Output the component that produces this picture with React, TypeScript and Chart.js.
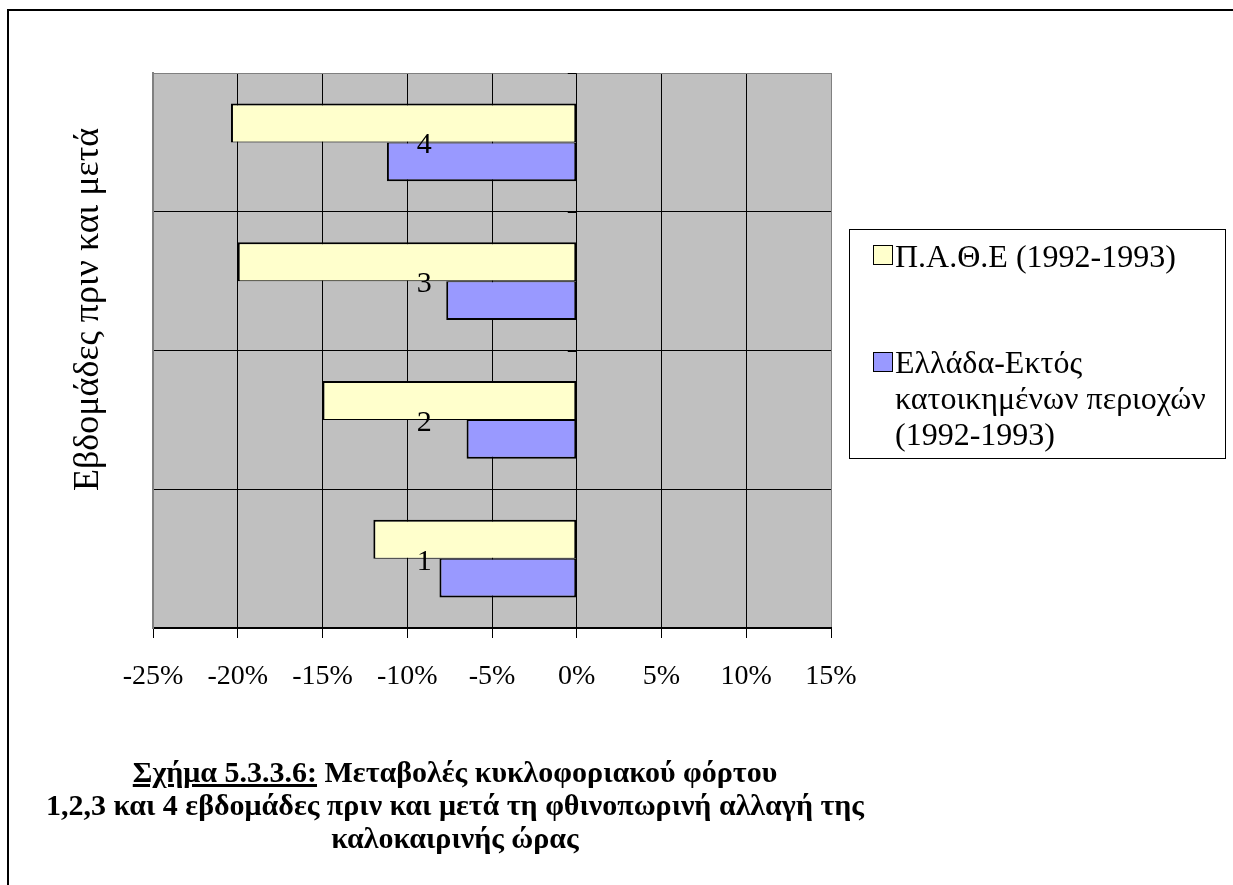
import React, { useEffect, useRef } from 'react';
import { Chart, registerables } from 'chart.js';

Chart.register(...registerables);

// ---- data ----
const weeks = ['1', '2', '3', '4'];
const patheValues = [-12.0, -15.0, -20.0, -20.4];
const greeceValues = [-8.1, -6.5, -7.7, -11.2];
const seriesNames = ['Π.Α.Θ.Ε (1992-1993)', 'Ελλάδα-Εκτός κατοικημένων περιοχών (1992-1993)'];
const seriesColors = ['#ffffcc', '#9999ff'];
const xMin = -25;
const xMax = 15;
const xStep = 5;
const yTitle = 'Εβδομάδες πριν και μετά';
const captionLead = 'Σχήμα 5.3.3.6:';
const captionRest = ' Μεταβολές κυκλοφοριακού φόρτου';
const captionLines = ['1,2,3 και 4 εβδομάδες πριν και μετά τη φθινοπωρινή αλλαγή της', 'καλοκαιρινής ώρας'];
const categoryLabelAt = -9; // x value where week labels sit (as in the original)
const categoryAxisAt = 0;

const SERIF = '"Liberation Serif", "Times New Roman", serif';

const overlayPlugin = {
  id: 'overlay',
  beforeDraw(chart: any) {
    const { ctx, chartArea } = chart;
    ctx.save();
    ctx.fillStyle = '#c0c0c0';
    ctx.fillRect(chartArea.left, chartArea.top, chartArea.right - chartArea.left, chartArea.bottom - chartArea.top);
    ctx.restore();
  },
  afterDraw(chart: any) {
    const { ctx, chartArea, scales } = chart;
    const xs = scales.x;
    const ys = scales.y;
    ctx.save();
    // category labels
    ctx.fillStyle = '#000';
    ctx.font = `30px ${SERIF}`;
    ctx.textAlign = 'center';
    ctx.textBaseline = 'middle';
    const lx = xs.getPixelForValue(categoryLabelAt);
    const labels = chart.data.labels as string[];
    labels.forEach((l, i) => {
      ctx.fillText(l, lx, ys.getPixelForValue(i) + 3);
    });
    // small ticks of category axis at x = 0
    const ax = xs.getPixelForValue(categoryAxisAt);
    ctx.strokeStyle = '#000';
    ctx.lineWidth = 1;
    for (let i = 0; i <= labels.length; i++) {
      const y = Math.round(ys.getPixelForValue(i - 0.5)) + 0.5;
      ctx.beginPath();
      ctx.moveTo(ax - 9, y);
      ctx.lineTo(ax, y);
      ctx.stroke();
    }
    // y axis title
    ctx.font = `36px ${SERIF}`;
    ctx.translate(chartArea.left - 64, (chartArea.top + chartArea.bottom) / 2 - 41);
    ctx.rotate(-Math.PI / 2);
    ctx.fillText(yTitle, 0, 0);
    ctx.restore();
  },
};

export default function App() {
  const ref = useRef<HTMLCanvasElement>(null);
  useEffect(() => {
    document.body.style.margin = '0';
    document.body.style.overflow = 'hidden';
    const labels = weeks.slice().reverse();
    const chart = new Chart(ref.current!, {
      type: 'bar',
      data: {
        labels,
        datasets: [
          {
            label: seriesNames[0],
            data: patheValues.slice().reverse(),
            backgroundColor: seriesColors[0],
            borderColor: '#000',
            borderWidth: { top: 2, bottom: 1, left: 2, right: 2 } as any,
            borderSkipped: false,
            categoryPercentage: 0.56,
            barPercentage: 1,
          },
          {
            label: seriesNames[1],
            data: greeceValues.slice().reverse(),
            backgroundColor: seriesColors[1],
            borderColor: '#000',
            borderWidth: { top: 1, bottom: 2, left: 2, right: 2 } as any,
            borderSkipped: false,
            categoryPercentage: 0.56,
            barPercentage: 1,
          },
        ],
      },
      options: {
        indexAxis: 'y',
        responsive: false,
        animation: false,
        layout: { padding: { left: 153, top: 73, right: 402, bottom: 177 } },
        plugins: { legend: { display: false }, tooltip: { enabled: false } },
        scales: {
          x: {
            type: 'linear',
            min: xMin,
            max: xMax,
            ticks: {
              stepSize: xStep,
              callback: (v: any) => `${v}%`,
              color: '#000',
              font: { family: SERIF, size: 28 },
              padding: 22,
              maxRotation: 0,
              autoSkip: false,
            },
            grid: {
              color: (c: any) => (c.index === 0 || c.index === (xMax - xMin) / xStep ? '#808080' : '#000'),
              tickColor: '#000',
              tickLength: 10,
              lineWidth: 1,
            },
            border: { color: '#000', width: 2 },
            afterFit: (s: any) => {
              s.height = 80;
            },
          },
          y: {
            type: 'category',
            ticks: { display: false },
            grid: {
              color: (c: any) => (c.index === 0 ? '#808080' : '#000'),
              drawTicks: false,
              offset: true,
              lineWidth: 1,
            },
            border: { color: '#808080', width: 2 },
            afterFit: (s: any) => {
              s.width = 0;
            },
          },
        },
      },
      plugins: [overlayPlugin],
    });
    return () => chart.destroy();
  }, []);

  return (
    <div style={{ position: 'fixed', left: 0, top: 0, width: 1233, height: 885, overflow: 'hidden', background: '#fff' }}>
      <div
        style={{
          position: 'absolute',
          left: 7,
          top: 9,
          width: 1400,
          height: 1000,
          borderLeft: '2px solid #000',
          borderTop: '2px solid #000',
        }}
      />
      <canvas ref={ref} width={1233} height={885} style={{ position: 'absolute', left: 0, top: 0 }} />
      <div
        style={{
          position: 'absolute',
          left: 849,
          top: 229,
          width: 375,
          height: 228,
          border: '1px solid #000',
          fontFamily: SERIF,
          fontSize: 32,
          lineHeight: '36px',
          color: '#000',
          boxSizing: 'content-box',
        }}
      >
        {seriesNames.map((n, i) => (
          <div key={i} style={{ position: 'absolute', left: 23, top: i === 0 ? 8 : 114, width: 345, display: 'flex' }}>
            <span
              style={{
                display: 'inline-block',
                width: 18,
                height: 18,
                background: seriesColors[i],
                border: '1px solid #000',
                marginTop: i === 0 ? 7 : 8,
                marginRight: 2,
                flex: 'none',
              }}
            />
            <span>{n}</span>
          </div>
        ))}
      </div>
      <div
        style={{
          position: 'absolute',
          left: 0,
          top: 755,
          width: 910,
          textAlign: 'center',
          fontFamily: SERIF,
          fontWeight: 'bold',
          fontSize: 30,
          lineHeight: '33px',
          color: '#000',
        }}
      >
        <div>
          <span style={{ textDecoration: 'underline' }}>{captionLead}</span>
          {captionRest}
        </div>
        {captionLines.map((l, i) => (
          <div key={i}>{l}</div>
        ))}
      </div>
    </div>
  );
}
